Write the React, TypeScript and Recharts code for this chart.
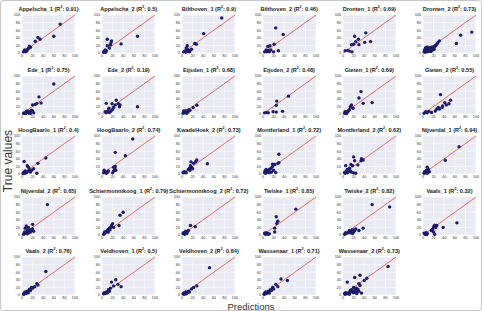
import React from "react";
import {
  ScatterChart,
  Scatter,
  XAxis,
  YAxis,
  CartesianGrid,
  ReferenceLine,
} from "recharts";

type Pt = [number, number];

// predicted vs. true, one array per site
const appelscha1: Pt[] = [[3,3],[4,5],[5,4],[6,6],[7,3],[8,7],[9,5],[5,8],[10,9],[12,12],[14,18],[16,15],[25,31],[30,41],[34,36],[60,44],[72,76]];
const appelscha2: Pt[] = [[3,2],[4,4],[5,3],[6,5],[7,2],[8,6],[6,8],[10,19],[10,36],[14,13],[17,27],[18,32],[16,22],[36,24],[67,44]];
const bilthoven1: Pt[] = [[3,3],[5,5],[7,2],[8,7],[10,4],[12,8],[14,3],[15,6],[18,10],[8,13],[10,19],[24,25],[27,23],[41,51],[75,92]];
const bilthoven2: Pt[] = [[3,3],[7,3],[12,3],[6,8],[10,7],[15,8],[9,17],[13,19],[20,3],[29,6],[21,23],[38,49],[24,66]];
const dronten1: Pt[] = [[4,6],[9,7],[12,5],[17,3],[16,22],[20,23],[24,30],[22,44],[29,36],[30,22],[41,28],[52,30],[43,53]];
const dronten2: Pt[] = [[2,3],[3,5],[4,2],[5,8],[6,4],[7,10],[8,6],[9,3],[10,12],[11,7],[12,5],[13,14],[14,9],[15,4],[16,11],[17,16],[18,8],[19,13],[20,15],[21,10],[22,17],[24,20],[8,16],[5,14],[3,9],[23,19],[26,23],[28,27],[31,32],[63,25],[71,47],[92,55]];
const ede1: Pt[] = [[3,2],[5,3],[7,1],[8,6],[10,8],[12,4],[13,2],[15,6],[16,1],[18,10],[20,8],[22,3],[20,24],[25,25],[28,28],[36,29],[32,45],[60,79]];
const ede2: Pt[] = [[6,6],[8,3],[11,8],[14,4],[17,8],[20,12],[13,15],[8,28],[19,27],[22,17],[25,24],[27,36],[31,27],[34,24],[33,19],[67,19]];
const eijsden1: Pt[] = [[2,2],[4,5],[5,3],[6,8],[7,4],[8,6],[9,2],[10,9],[11,5],[12,7],[13,11],[3,8],[15,10],[21,17],[28,23]];
const eijsden2: Pt[] = [[3,3],[7,4],[10,3],[19,6],[25,5],[37,7],[25,23],[26,34],[48,47]];
const gieten1: Pt[] = [[3,2],[5,4],[6,3],[8,6],[10,8],[7,1],[4,6],[12,11],[14,19],[16,24],[19,15],[30,42],[34,59],[38,28],[55,30]];
const gieten2: Pt[] = [[2,2],[5,6],[8,3],[11,7],[16,4],[23,8],[26,13],[31,13],[29,17],[36,17],[37,21],[41,30],[44,24],[49,27],[52,36],[33,51]];
const hoogBaarlo1: Pt[] = [[2,1],[3,4],[5,2],[6,8],[8,3],[10,6],[16,5],[4,33],[10,22],[12,18],[14,12],[18,10],[22,14],[28,2],[30,28],[45,42]];
const hoogBaarlo2: Pt[] = [[3,3],[4,10],[5,7],[6,5],[8,2],[10,4],[12,8],[20,3],[22,8],[22,18],[24,14],[26,10],[25,20],[25,57],[44,48],[58,92]];
const kwadeHoek2: Pt[] = [[2,4],[3,3],[4,6],[5,4],[7,5],[8,3],[12,12],[15,10],[14,15],[20,14],[18,18],[16,22],[17,32],[22,28],[26,33],[28,37],[48,27]];
const montferland1: Pt[] = [[3,4],[4,8],[5,2],[6,12],[8,5],[10,8],[12,3],[12,12],[15,15],[16,5],[18,20],[18,26],[20,10],[22,25],[24,4],[28,28],[30,30],[30,52]];
const montferland2: Pt[] = [[3,4],[4,2],[5,22],[6,7],[8,3],[8,12],[10,5],[12,15],[14,8],[15,25],[16,5],[18,22],[20,3],[20,45],[22,35],[24,2],[28,24],[34,35],[35,40],[38,37]];
const nijverdal1: Pt[] = [[2,2],[3,6],[4,3],[5,5],[6,8],[7,10],[8,2],[8,18],[10,12],[12,6],[42,36],[68,72]];
const nijverdal2: Pt[] = [[3,2],[4,4],[5,8],[6,18],[8,5],[8,24],[10,3],[10,12],[12,6],[12,20],[15,14],[16,8],[18,12],[20,16],[20,28],[22,10],[48,80]];
const schier1: Pt[] = [[3,2],[4,3],[5,8],[6,5],[8,8],[10,12],[12,8],[12,15],[14,18],[15,14],[16,20],[18,25],[20,30],[22,20],[32,25],[34,52],[40,60]];
const schier2: Pt[] = [[2,4],[3,6],[4,3],[5,2],[6,5],[7,10],[8,6],[9,4],[10,8],[12,12],[16,25],[25,22]];
const twiske1: Pt[] = [[3,5],[4,3],[5,2],[6,6],[8,4],[10,2],[12,3],[22,8],[22,18],[26,30],[28,36],[25,48],[62,68]];
const twiske2: Pt[] = [[3,2],[4,3],[5,6],[6,4],[8,5],[10,7],[12,12],[14,6],[15,10],[18,4],[18,14],[20,8],[22,12],[24,16],[30,12],[38,18],[55,80],[88,74]];
const vaals1: Pt[] = [[2,5],[3,3],[4,4],[5,2],[6,6],[7,1],[8,4],[16,12],[18,15],[20,8],[20,22],[22,2],[22,26],[24,20],[26,25],[38,20],[64,32]];
const vaals2: Pt[] = [[3,2],[4,5],[5,3],[6,8],[8,4],[10,10],[12,6],[14,15],[16,12],[18,20],[20,18],[24,22],[28,30],[30,26],[45,62]];
const veldhoven1: Pt[] = [[3,3],[4,6],[6,4],[8,8],[10,5],[12,14],[14,10],[16,18],[18,34],[22,24],[26,40],[30,28],[36,22]];
const veldhoven2: Pt[] = [[2,3],[3,5],[4,2],[5,6],[6,4],[7,8],[8,3],[10,6],[12,10],[14,8],[18,16],[22,20],[28,24],[52,72]];
const wassenaar1: Pt[] = [[2,2],[3,5],[4,3],[5,8],[6,4],[8,6],[10,10],[12,5],[14,14],[16,12],[18,20],[20,16],[24,28],[28,22],[34,42],[46,38]];
const wassenaar2: Pt[] = [[3,4],[4,2],[5,6],[6,3],[8,4],[8,34],[10,5],[12,6],[12,2],[14,12],[15,8],[16,14],[18,10],[20,20],[20,6],[22,12],[22,46],[25,18],[25,8],[26,4],[28,15],[30,30],[30,10],[32,25],[32,52],[35,5],[40,38],[45,44],[85,75]];

const sites = [
  "Appelscha_1", "Appelscha_2", "Bilthoven_1", "Bilthoven_2", "Dronten_1", "Dronten_2",
  "Ede_1", "Ede_2", "Eijsden_1", "Eijsden_2", "Gieten_1", "Gieten_2",
  "HoogBaarlo_1", "HoogBaarlo_2", "KwadeHoek_2", "Montferland_1", "Montferland_2", "Nijverdal_1",
  "Nijverdal_2", "Schiermonnikoog_1", "Schiermonnikoog_2", "Twiske_1", "Twiske_2", "Vaals_1",
  "Vaals_2", "Veldhoven_1", "Veldhoven_2", "Wassenaar_1", "Wassenaar_2",
];
const r2 = [
  "0.91", "0.5", "0.9", "0.46", "0.69", "0.73",
  "0.75", "0.19", "0.68", "0.48", "0.69", "0.55",
  "0.4", "0.74", "0.73", "0.72", "0.62", "0.94",
  "0.65", "0.79", "0.72", "0.85", "0.82", "0.32",
  "0.76", "0.5", "0.64", "0.71", "0.73",
];
const samples = [
  appelscha1, appelscha2, bilthoven1, bilthoven2, dronten1, dronten2,
  ede1, ede2, eijsden1, eijsden2, gieten1, gieten2,
  hoogBaarlo1, hoogBaarlo2, kwadeHoek2, montferland1, montferland2, nijverdal1,
  nijverdal2, schier1, schier2, twiske1, twiske2, vaals1,
  vaals2, veldhoven1, veldhoven2, wassenaar1, wassenaar2,
];
const TICKS = [0, 20, 40, 60, 80, 100];

const PLOT_W = 53;
const PLOT_H = 38;
const Y_AXIS_W = 12;
const X_AXIS_H = 7;
const PAD_R = 5;
const tickStyle = { fontSize: 3.8, fill: "#333", fontFamily: "Liberation Sans, Arial, sans-serif" };

const Dot = (props: any) => (
  <circle cx={props.cx} cy={props.cy} r={1.7} fill="#1b1b66" />
);

const Panel = ({ idx }: { idx: number }) => {
  const col = idx % 6;
  const row = Math.floor(idx / 6);
  const left = 21 + col * 80.2;
  const top = 14 + row * 60.5;
  const data = samples[idx].map(([x, y]) => ({ x, y }));
  return (
    <>
      <div
        style={{
          position: "absolute",
          left: left - 20,
          top: top - 9,
          width: PLOT_W + 40,
          textAlign: "center",
          fontSize: 5.6,
          fontWeight: "bold",
          color: "#222",
          whiteSpace: "nowrap",
          lineHeight: "7px",
        }}
      >
        {sites[idx]} (R<sup style={{ fontSize: 3.5, lineHeight: 0 }}>2</sup>: {r2[idx]})
      </div>
      <div style={{ position: "absolute", left: left - Y_AXIS_W, top: top - 3 }}>
        <ScatterChart
          width={Y_AXIS_W + PLOT_W + PAD_R}
          height={3 + PLOT_H + X_AXIS_H}
          margin={{ top: 3, right: PAD_R, bottom: 0, left: 0 }}
        >
          <CartesianGrid fill="#eaeaf2" stroke="#ffffff" strokeWidth={0.6} />
          <XAxis
            type="number"
            dataKey="x"
            domain={[0, 100]}
            ticks={TICKS}
            interval={0}
            height={X_AXIS_H}
            tickLine={false}
            tickSize={0}
            axisLine={false}
            tickMargin={1.5}
            tick={tickStyle}
          />
          <YAxis
            type="number"
            dataKey="y"
            domain={[0, 100]}
            ticks={TICKS}
            interval={0}
            width={Y_AXIS_W}
            tickLine={false}
            tickSize={0}
            axisLine={false}
            tickMargin={2}
            tick={tickStyle}
          />
          <ReferenceLine
            segment={[{ x: 0, y: 0 }, { x: 100, y: 100 }]}
            stroke="#e24a45"
            strokeWidth={0.8}
          />
          <Scatter data={data} shape={Dot} isAnimationActive={false} />
        </ScatterChart>
      </div>
    </>
  );
};

export default function App() {
  return (
    <div
      style={{
        position: "absolute",
        left: 0,
        top: 0,
        width: 480,
        height: 309,
        border: "1px solid #c8c8c8",
        borderRadius: 3,
        background: "#fff",
        fontFamily: "Liberation Sans, Arial, sans-serif",
        overflow: "hidden",
      }}
    >
      {samples.map((_, i) => (
        <Panel key={sites[i]} idx={i} />
      ))}
      <div
        style={{
          position: "absolute",
          left: 7,
          top: 160,
          transform: "translate(-50%, -50%) rotate(-90deg)",
          fontSize: 12,
          color: "#333",
          whiteSpace: "nowrap",
        }}
      >
        True values
      </div>
      <div
        style={{
          position: "absolute",
          left: 0,
          width: 500,
          top: 301,
          textAlign: "center",
          fontSize: 9.5,
          lineHeight: "9px",
          color: "#333",
        }}
      >
        Predictions
      </div>
    </div>
  );
}
